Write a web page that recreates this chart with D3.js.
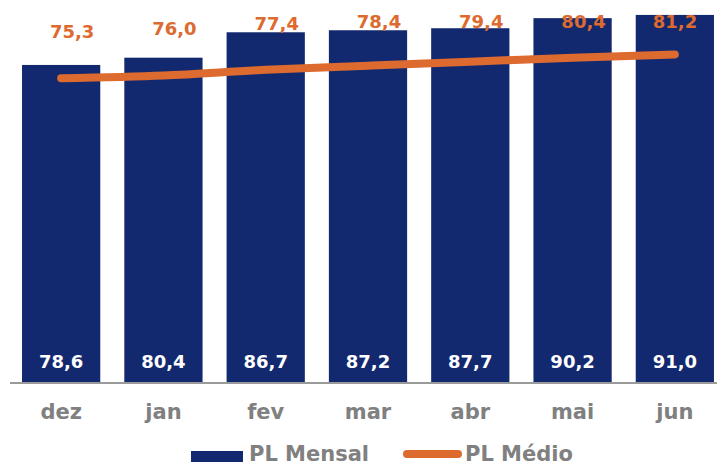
<!DOCTYPE html>
<html lang="pt">
<head>
<meta charset="utf-8" />
<title>PL Mensal x PL Médio</title>
<style>
  body { margin: 0; background: #fff; }
  svg { display: block; font-family: "DejaVu Sans", Verdana, sans-serif; font-weight: bold; }
</style>
</head>
<body>
<div id="chart"></div>
<script src="https://d3js.org/d3.v7.min.js"></script>
<script>
  const months = ["dez", "jan", "fev", "mar", "abr", "mai", "jun"];
  const plMensal = [78.6, 80.4, 86.7, 87.2, 87.7, 90.2, 91.0];
  const plMedio = [75.3, 76.0, 77.4, 78.4, 79.4, 80.4, 81.2];
  const seriesNames = ["PL Mensal", "PL Médio"];

  const width = 717, height = 466;
  const navy = "#13296f", orange = "#dd6a2e", grey = "#808080";
  const fmt = v => v.toFixed(1).replace(".", ",");

  const svg = d3.select("#chart").append("svg")
    .attr("width", width)
    .attr("height", height);

  const x = d3.scaleBand()
    .domain(months)
    .range([10, 726])
    .paddingInner(0.235)
    .paddingOuter(0.1175);

  const y = d3.scaleLinear()
    .domain([0, 94.7])
    .range([382, 0]);

  const cx = m => x(m) + x.bandwidth() / 2;

  // bars
  svg.selectAll(".bar")
    .data(months)
    .enter()
    .append("rect")
    .attr("class", "bar")
    .attr("x", m => x(m))
    .attr("y", (m, i) => y(plMensal[i]))
    .attr("width", x.bandwidth())
    .attr("height", (m, i) => y(0) - y(plMensal[i]))
    .attr("fill", navy);

  // value labels inside bars
  svg.selectAll(".barlabel")
    .data(months)
    .enter()
    .append("text")
    .attr("x", cx)
    .attr("y", 368)
    .attr("text-anchor", "middle")
    .attr("font-size", 18)
    .attr("fill", "#fff")
    .text((m, i) => fmt(plMensal[i]));

  // baseline
  svg.append("line")
    .attr("x1", 10).attr("x2", width)
    .attr("y1", y(0) + 1).attr("y2", y(0) + 1)
    .attr("stroke", "#9a9a9a")
    .attr("stroke-width", 2);

  // category labels
  svg.append("g")
    .attr("transform", `translate(0, ${y(0)})`)
    .call(d3.axisBottom(x).tickSize(0).tickPadding(0))
    .call(g => g.select(".domain").remove())
    .selectAll("text")
    .attr("dy", null)
    .attr("y", 37)
    .attr("font-family", "DejaVu Sans, sans-serif")
    .attr("font-weight", "bold")
    .attr("font-size", 21)
    .attr("fill", grey);

  // average line
  const line = d3.line()
    .x((d, i) => cx(months[i]))
    .y(d => y(d))
    .curve(d3.curveMonotoneX);

  svg.append("path")
    .datum(plMedio)
    .attr("d", line)
    .attr("fill", "none")
    .attr("stroke", orange)
    .attr("stroke-width", 8)
    .attr("stroke-linecap", "round");

  svg.selectAll(".linelabel")
    .data(plMedio)
    .enter()
    .append("text")
    .attr("x", (d, i) => Math.min(cx(months[i]) + 11, 675))
    .attr("y", d => Math.max(y(d) - 40, 28))
    .attr("text-anchor", "middle")
    .attr("font-size", 18)
    .attr("fill", orange)
    .text(fmt);

  // legend
  const legend = svg.append("g").attr("font-size", 21).attr("fill", grey);
  legend.append("rect")
    .attr("x", 191).attr("y", 451)
    .attr("width", 52).attr("height", 11)
    .attr("fill", navy);
  legend.append("text")
    .attr("x", 249).attr("y", 461)
    .text(seriesNames[0]);
  legend.append("line")
    .attr("x1", 407).attr("x2", 458)
    .attr("y1", 454).attr("y2", 454)
    .attr("stroke", orange)
    .attr("stroke-width", 8)
    .attr("stroke-linecap", "round");
  legend.append("text")
    .attr("x", 465).attr("y", 461)
    .text(seriesNames[1]);
</script>
</body>
</html>
